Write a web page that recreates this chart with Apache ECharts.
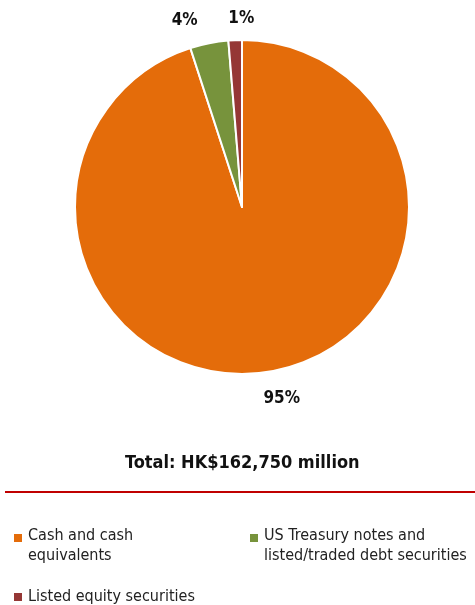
<!DOCTYPE html>
<html><head><meta charset="utf-8">
<script src="https://cdn.jsdelivr.net/npm/echarts@6/dist/echarts.min.js"></script>
<style>html,body{margin:0;padding:0;background:#fff}#c{width:475px;height:605px}</style>
</head><body><div id="c"></div>
<script>
var categories = ["Cash and cash equivalents", "US Treasury notes and listed/traded debt securities", "Listed equity securities"];
var values = [95.0, 3.7, 1.3];
var labels = ["95%", "4%", "1%"];
var colors = ["#E46C0A", "#77933C", "#953735"];
var legendLines = {
  "Cash and cash equivalents": "Cash and cash\nequivalents",
  "US Treasury notes and listed/traded debt securities": "US Treasury notes and\nlisted/traded debt securities",
  "Listed equity securities": "Listed equity securities"
};
var FONT = "'Liberation Sans Narrow','DejaVu Sans Condensed',sans-serif";
var CX = 242, CY = 207, R = 167;
// label nudges (style only)
var nudge = [[10, 4], [-20, 0], [7, 1]];
var total = values.reduce(function (a, b) { return a + b; }, 0);
var midAngles = [];
(function () { var acc = 0; values.forEach(function (v) { midAngles.push(90 - (acc + v / 2) / total * 360); acc += v; }); })();

var chart = echarts.init(document.getElementById('c'), null, {renderer: 'canvas'});
function lg(name, left, top, twoLine) {
  return {
    data: [name], left: left, top: top, orient: 'vertical',
    icon: twoLine ? 'path://M0,0L0.01,0L0.01,0.01L0,0.01Z M0,1L10,1L10,11L0,11Z M0,27.99L0.01,27.99L0.01,28L0,28Z' : 'path://M0,0L10,0L10,10L0,10Z',
    itemWidth: 10, itemHeight: twoLine ? 28 : 10, itemGap: 4,
    selectedMode: false,
    formatter: function (n) { return legendLines[n]; },
    textStyle: {fontFamily: FONT, fontSize: 16, color: '#222', lineHeight: 20}
  };
}
chart.setOption({
  animation: false,
  color: colors,
  legend: [lg(categories[0], 7, 521, true), lg(categories[1], 243, 521, true), lg(categories[2], 7, 582, false)],
  graphic: [
    {type: 'text', left: 125, top: 454, style: {text: 'Total: HK$162,750 million', fontFamily: FONT, fontWeight: 'bold', fontSize: 18, fill: '#111'}},
    {type: 'line', shape: {x1: 5, y1: 492, x2: 475, y2: 492}, style: {stroke: '#C00000', lineWidth: 2}}
  ],
  series: [{
    type: 'pie', center: [CX, CY], radius: R, startAngle: 90, clockwise: true,
    avoidLabelOverlap: false,
    itemStyle: {borderColor: '#fff', borderWidth: 2},
    label: {show: true, position: 'outside', fontFamily: FONT, fontWeight: 'bold', fontSize: 17, color: '#111',
      formatter: function (p) { return labels[p.dataIndex]; }},
    labelLine: {show: false, length: 10, length2: 0},
    labelLayout: function (p) {
      var i = p.dataIndex, a = midAngles[i] * Math.PI / 180, d = R + 23;
      return {
        x: CX + d * Math.cos(a) + nudge[i][0],
        y: CY - d * Math.sin(a) + nudge[i][1],
        align: 'center', verticalAlign: 'middle', hideOverlap: false
      };
    },
    emphasis: {disabled: true},
    data: categories.map(function (c, i) { return {name: c, value: values[i]}; })
  }]
});
</script></body></html>
